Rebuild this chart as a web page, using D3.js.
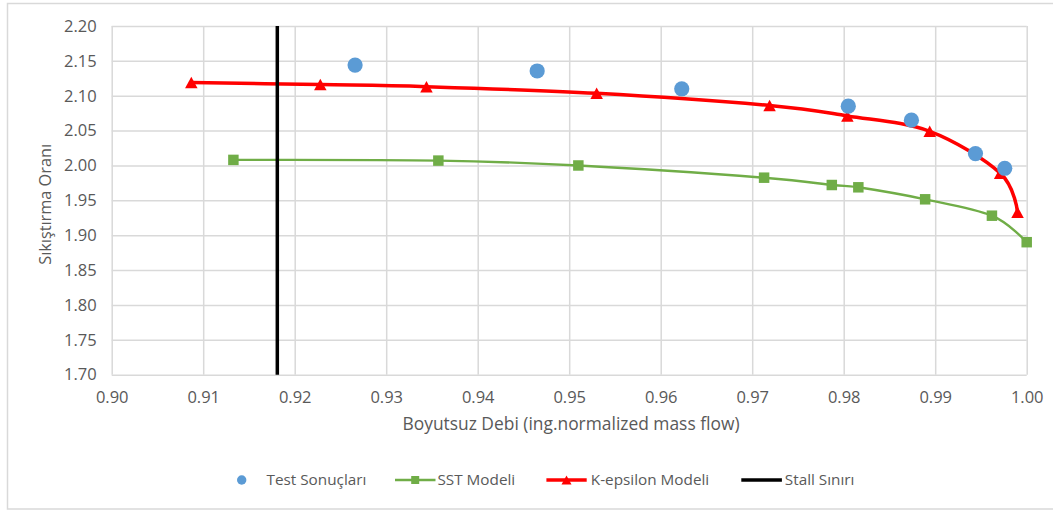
<!DOCTYPE html>
<html>
<head>
<meta charset="utf-8">
<script src="https://cdn.jsdelivr.net/npm/d3@7/dist/d3.min.js"></script>
<style>
  html, body { margin: 0; padding: 0; background: #fff; }
  svg { display: block; font-family: "Open Sans", "Noto Sans", sans-serif; }
</style>
</head>
<body>
<svg id="chart" width="1053" height="510"></svg>
<script>
// Axis ticks
const xTicks = [0.90, 0.91, 0.92, 0.93, 0.94, 0.95, 0.96, 0.97, 0.98, 0.99, 1.00];
const yTicks = [1.70, 1.75, 1.80, 1.85, 1.90, 1.95, 2.00, 2.05, 2.10, 2.15, 2.20];

// Test results
const testX = [0.9266, 0.9465, 0.9623, 0.9805, 0.9874, 0.9944, 0.9976];
const testY = [2.144, 2.1355, 2.110, 2.085, 2.065, 2.017, 1.996];

// SST model
const sstX = [0.9133, 0.9357, 0.9510, 0.9713, 0.9787, 0.9816, 0.9889, 0.9962, 1.0000];
const sstY = [2.008, 2.007, 2.000, 1.9825, 1.972, 1.9687, 1.9515, 1.928, 1.890];

// K-epsilon model
const kepsX = [0.9087, 0.9228, 0.9344, 0.9530, 0.9719, 0.9804, 0.9894, 0.9971, 0.9990];
const kepsY = [2.119, 2.116, 2.113, 2.1035, 2.086, 2.071, 2.049, 1.989, 1.933];

// Stall limit
const stallX = 0.9181;

const seriesNames = ["Test Sonuçları", "SST Modeli", "K-epsilon Modeli", "Stall Sınırı"];
const xTitle = "Boyutsuz Debi (ing.normalized mass flow)";
const yTitle = "Sıkıştırma Oranı";

const colors = { test: "#5B9BD5", sst: "#70AD47", keps: "#FF0000", stall: "#000000" };
const grid = "#D9D9D9";
const textColor = "#595959";

const svg = d3.select("#chart");

// chart border
svg.append("rect")
  .attr("x", 7.5).attr("y", 3.5)
  .attr("width", 1060).attr("height", 505.5)
  .attr("fill", "#fff").attr("stroke", grid).attr("stroke-width", 1.5);

const plot = { left: 111.7, right: 1026.7, top: 26, bottom: 374.7 };

const x = d3.scaleLinear().domain([0.90, 1.00]).range([plot.left, plot.right]);
const y = d3.scaleLinear().domain([1.70, 2.20]).range([plot.bottom, plot.top]);

// vertical gridlines + x tick labels
const xAxis = svg.append("g")
  .attr("transform", `translate(0,${plot.bottom})`)
  .call(d3.axisBottom(x).tickValues(xTicks).tickFormat(d3.format(".2f"))
    .tickSize(-(plot.bottom - plot.top)).tickPadding(17));
xAxis.select(".domain").remove();
xAxis.selectAll(".tick line").attr("stroke", grid).attr("stroke-width", 1.5);
xAxis.selectAll(".tick text").attr("fill", textColor)
  .style("font-size", "16.5px").style("font-family", "'Open Sans', sans-serif");

// horizontal gridlines + y tick labels
const yAxis = svg.append("g")
  .attr("transform", `translate(${plot.left},0)`)
  .call(d3.axisLeft(y).tickValues(yTicks).tickFormat(d3.format(".2f"))
    .tickSize(-(plot.right - plot.left)).tickPadding(15));
yAxis.select(".domain").remove();
yAxis.selectAll(".tick line").attr("stroke", grid).attr("stroke-width", 1.5);
yAxis.selectAll(".tick text").attr("fill", textColor)
  .style("font-size", "16.5px").style("font-family", "'Open Sans', sans-serif");

// axis titles
svg.append("text")
  .attr("x", 571).attr("y", 430)
  .attr("text-anchor", "middle").attr("fill", textColor)
  .style("font-size", "17.4px").text(xTitle);

svg.append("text")
  .attr("transform", `translate(51,${(plot.top + plot.bottom) / 2 + 4}) rotate(-90)`)
  .attr("text-anchor", "middle").attr("fill", textColor)
  .style("font-size", "16.3px").text(yTitle);

// smooth series lines
const line = d3.line().x(d => x(d[0])).y(d => y(d[1])).curve(d3.curveCatmullRom.alpha(0));
const sstPts = d3.zip(sstX, sstY);
const kepsPts = d3.zip(kepsX, kepsY);
const testPts = d3.zip(testX, testY);

const triPath = (w, h) => `M0,${-h / 2}L${w / 2},${h / 2}L${-w / 2},${h / 2}Z`;

svg.append("path").datum(sstPts).attr("d", line)
  .attr("fill", "none").attr("stroke", colors.sst).attr("stroke-width", 2.4);
svg.append("g").selectAll("path").data(sstPts).join("path")
  .attr("transform", d => `translate(${x(d[0])},${y(d[1])})`)
  .attr("d", d3.symbol(d3.symbolSquare, 110))
  .attr("fill", colors.sst);

svg.append("path").datum(kepsPts).attr("d", line)
  .attr("fill", "none").attr("stroke", colors.keps).attr("stroke-width", 3.5);
svg.append("g").selectAll("path").data(kepsPts).join("path")
  .attr("transform", d => `translate(${x(d[0])},${y(d[1])})`)
  .attr("d", triPath(12.5, 11.5))
  .attr("fill", colors.keps);

// stall limit
svg.append("line")
  .attr("x1", x(stallX)).attr("x2", x(stallX))
  .attr("y1", y(1.70)).attr("y2", y(2.20))
  .attr("stroke", colors.stall).attr("stroke-width", 3.5);

// test points
svg.append("g").selectAll("circle").data(testPts).join("circle")
  .attr("cx", d => x(d[0])).attr("cy", d => y(d[1])).attr("r", 7.6)
  .attr("fill", colors.test);

// legend
const ly = 480;
const legend = svg.append("g").style("font-size", "15.3px").attr("fill", textColor);

legend.append("circle").attr("cx", 241.7).attr("cy", ly).attr("r", 4.7).attr("fill", colors.test);
legend.append("text").attr("x", 266.5).attr("y", ly).attr("dy", "0.35em").text(seriesNames[0]);

legend.append("line").attr("x1", 395).attr("x2", 435.5).attr("y1", ly).attr("y2", ly)
  .attr("stroke", colors.sst).attr("stroke-width", 2.6);
legend.append("path").attr("transform", `translate(415.2,${ly})`)
  .attr("d", d3.symbol(d3.symbolSquare, 64)).attr("fill", colors.sst);
legend.append("text").attr("x", 437.4).attr("y", ly).attr("dy", "0.35em").text(seriesNames[1]);

legend.append("line").attr("x1", 546.4).attr("x2", 586.7).attr("y1", ly).attr("y2", ly)
  .attr("stroke", colors.keps).attr("stroke-width", 3.5);
legend.append("path").attr("transform", `translate(566.5,${ly})`)
  .attr("d", triPath(10, 9)).attr("fill", colors.keps);
legend.append("text").attr("x", 590.8).attr("y", ly).attr("dy", "0.35em").text(seriesNames[2]);

legend.append("line").attr("x1", 741.3).attr("x2", 781.9).attr("y1", ly).attr("y2", ly)
  .attr("stroke", colors.stall).attr("stroke-width", 3.5);
legend.append("text").attr("x", 784.8).attr("y", ly).attr("dy", "0.35em").text(seriesNames[3]);
</script>
</body>
</html>
